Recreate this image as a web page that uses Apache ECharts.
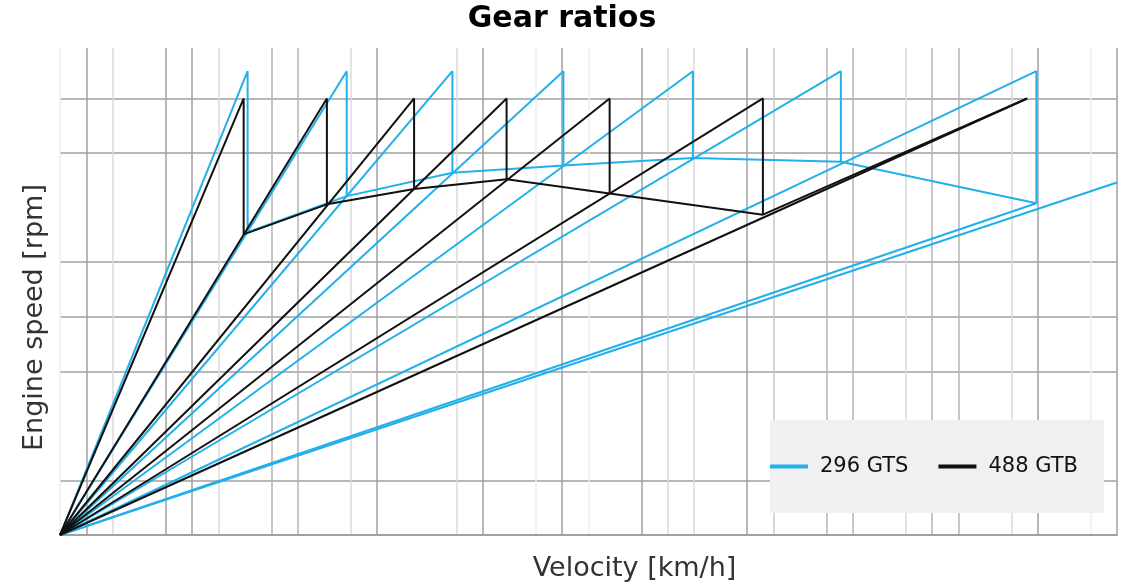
<!DOCTYPE html>
<html><head><meta charset="utf-8">
<script src="https://cdn.jsdelivr.net/npm/echarts@6/dist/echarts.min.js"></script>
<style>html,body{margin:0;padding:0;background:#fff}#c{width:1124px;height:584px}</style>
</head><body><div id="c"></div>
<script>
// ---------- data ----------
const legendNames = ['296 GTS', '488 GTB'];

// 296 GTS: speed (km/h) reached at the 8500 rpm redline in gears 1..7
const gtsRedline = 8500;
const gtsGearTopSpeed = [71, 108.5, 148.5, 190.5, 239.5, 295.5, 369.5];
// engine speed (rpm) right after each upshift (1->2 ... 7->8)
const gtsShiftDropRpm = [5550, 6210, 6640, 6770, 6910, 6840, 6080];
// 8th gear line: point where it leaves the chart (km/h, rpm)
const gtsEighthGearExit = [400, 6460];

// 488 GTB: speed (km/h) reached at the 8000 rpm redline in gears 1..7
const gtbRedline = 8000;
const gtbGearTopSpeed = [69.5, 101, 134, 169, 208, 266, 366];
// engine speed (rpm) right after each upshift (1->2 ... 6->7)
const gtbShiftDropRpm = [5510, 6060, 6340, 6520, 6260, 5870];

// axis ranges
const xMax = 400, xStep = 10;
const yMax = 8925, yStep = 1000;

// ---------- styling ----------
const BLUE = '#22b0ea', BLACK = '#111111';
const D = '#a0a0a0', M = '#b4b4b4', L2 = '#c8c8c8', L = '#dadada', VL = '#eeeeee', N = 'rgba(0,0,0,0)';
const xGridColors = [VL, D, L, N, D, D, L, N, M, M, N, L, D, N, N, L, D, N, VL, D,
                     VL, N, D, L, L, N, D, L2, N, M, M, N, L, M, M, N, L, D, N, VL, D];
const yGridColors = [N, D, N, D, D, D, N, D, D, N];

function mk(name, color, data, z) {
  return {
    type: 'line', name: name, data: data,
    symbol: 'none', showSymbol: false, silent: true, animation: false,
    lineStyle: { color: color, width: 2 }, itemStyle: { color: color },
    z: z
  };
}

const series = [];
// 296 GTS gear lines
gtsGearTopSpeed.forEach((v, i) => {
  series.push(mk(legendNames[0], BLUE, [[0, 0], [v, gtsRedline], [v, gtsShiftDropRpm[i]]], 2));
});
series.push(mk(legendNames[0], BLUE, [[0, 0], gtsEighthGearExit], 2));
// 296 GTS shift-point curve
series.push(mk(legendNames[0], BLUE,
  gtsGearTopSpeed.map((v, i) => [v, gtsShiftDropRpm[i]]).concat([[0, 0]]), 2));

// 488 GTB gear lines
gtbGearTopSpeed.forEach((v, i) => {
  const d = [[0, 0], [v, gtbRedline]];
  if (i < gtbShiftDropRpm.length) d.push([v, gtbShiftDropRpm[i]]);
  series.push(mk(legendNames[1], BLACK, d, 3));
});
// 488 GTB shift-point curve
series.push(mk(legendNames[1], BLACK,
  gtbShiftDropRpm.map((r, i) => [gtbGearTopSpeed[i], r])
    .concat([[gtbGearTopSpeed[gtbGearTopSpeed.length - 1], gtbRedline]]), 3));

const chart = echarts.init(document.getElementById('c'), null, { renderer: 'canvas' });
chart.setOption({
  backgroundColor: '#ffffff',
  animation: false,
  title: {
    text: 'Gear ratios', left: 'center', top: 4, padding: 0,
    textStyle: { fontFamily: 'DejaVu Sans', fontSize: 30, fontWeight: 'bold', color: '#000' }
  },
  legend: {
    data: legendNames, left: 770, top: 420, orient: 'horizontal',
    icon: 'rect', itemWidth: 38, itemHeight: 4, itemGap: 30,
    padding: [36, 26, 36, 0], backgroundColor: '#f0f0f0',
    textStyle: { fontFamily: 'DejaVu Sans', fontSize: 21, color: '#111', padding: [0, 0, 0, 7] }
  },
  grid: { left: 60, right: 7, top: 48, bottom: 49, containLabel: false, outerBoundsMode: 'none' },
  xAxis: {
    type: 'value', min: 0, max: xMax, interval: xStep,
    name: 'Velocity [km/h]', nameLocation: 'middle', nameGap: 20,
    nameTextStyle: { fontFamily: 'DejaVu Sans', fontSize: 27, color: '#333', padding: [0, 0, 0, 92] },
    axisLine: { show: true, lineStyle: { color: '#a0a0a0', width: 2 } },
    axisTick: { show: false }, axisLabel: { show: false },
    splitLine: { show: true, lineStyle: { color: xGridColors, width: 1.5 } }
  },
  yAxis: {
    type: 'value', min: 0, max: yMax, interval: yStep,
    name: 'Engine speed [rpm]', nameLocation: 'middle', nameGap: 12,
    nameTextStyle: { fontFamily: 'DejaVu Sans', fontSize: 27, color: '#333', padding: [0, 52, 0, 0] },
    axisLine: { show: false }, axisTick: { show: false }, axisLabel: { show: false },
    splitLine: { show: true, lineStyle: { color: yGridColors, width: 1.5 } }
  },
  series: series
});
</script></body></html>
